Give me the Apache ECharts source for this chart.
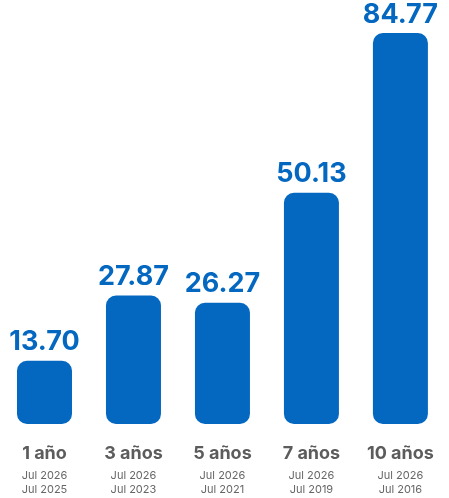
<!DOCTYPE html>
<html>
<head>
<meta charset="utf-8">
<script src="https://cdn.jsdelivr.net/npm/echarts@6/dist/echarts.min.js"></script>
<style>
html,body{margin:0;padding:0;background:#fff;}
#c{width:449px;height:498px;}
</style>
</head>
<body>
<div id="c"></div>
<script>
const categories = ['1 año', '3 años', '5 años', '7 años', '10 años'];
const values = [13.70, 27.87, 26.27, 50.13, 84.77];
const endDates = ['Jul 2026', 'Jul 2026', 'Jul 2026', 'Jul 2026', 'Jul 2026'];
const startDates = ['Jul 2025', 'Jul 2023', 'Jul 2021', 'Jul 2019', 'Jul 2016'];

const blue = '#0468C1';
const chart = echarts.init(document.getElementById('c'), null, {renderer: 'canvas'});
chart.setOption({
  animation: false,
  backgroundColor: '#fff',
  textStyle: {fontFamily: 'Inter'},
  grid: {left: -2.5, width: 447.4, top: 9, height: 415, containLabel: false},
  xAxis: {
    type: 'category',
    data: categories,
    axisLine: {show: false},
    axisTick: {show: false},
    axisLabel: {
      interval: 0,
      margin: 17,
      formatter: function (v, i) {
        return '{a|' + v + '}\n{b|' + endDates[i] + '}\n{b|' + startDates[i] + '}';
      },
      rich: {
        a: {fontFamily: 'Inter', fontSize: 18, fontWeight: 'bold', color: '#5c5c5c', lineHeight: 28, padding: [0, 0, 2, 0]},
        b: {fontFamily: 'Inter', fontSize: 11, color: '#666666', lineHeight: 14}
      }
    }
  },
  yAxis: {
    type: 'value',
    min: 0,
    max: 90,
    show: false,
    splitLine: {show: false}
  },
  series: [{
    type: 'bar',
    data: values,
    barWidth: 55,
    itemStyle: {color: blue, borderRadius: 10},
    label: {
      show: true,
      position: 'top',
      distance: 5,
      formatter: function (p) { return p.value.toFixed(2); },
      fontFamily: 'Inter',
      fontSize: 27,
      fontWeight: 'bold',
      color: blue
    }
  }]
});
</script>
</body>
</html>
